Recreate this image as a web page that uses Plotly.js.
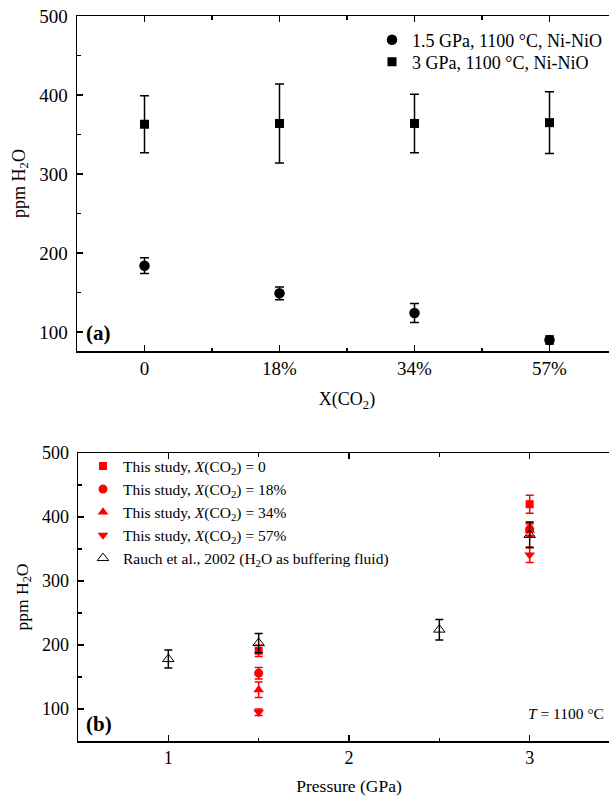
<!DOCTYPE html>
<html>
<head>
<meta charset="utf-8">
<script src="https://cdn.plot.ly/plotly-3.0.1.min.js"></script>
<style>
html,body{margin:0;padding:0;overflow:hidden;background:#fff;}
#chart{width:625px;height:796px;}
</style>
</head>
<body>
<div id="chart"></div>
<script>
// ---- Panel (a) data ----
const xco2Labels = ['0', '18%', '34%', '57%'];
const lowP_ppm   = [184, 149, 124, 90];   // 1.5 GPa
const lowP_err   = [10, 8, 12, 5];
const highP_ppm  = [363, 364, 364, 365];  // 3 GPa
const highP_err  = [36, 50, 37, 39];

// ---- Panel (b) data ----
const pStudy = [1.5, 3];
const study0_ppm  = [191, 420]; const study0_err  = [9, 14];
const study18_ppm = [156, 381]; const study18_err = [9, 10];
const study34_ppm = [130, 379]; const study34_err = [12, 10];
const study57_ppm = [95, 341];  const study57_err = [5, 12];
const rauchP   = [1, 1.5, 2.5, 3];
const rauchPpm = [178, 203, 224, 372];
const rauchErr = [14, 15, 16, 20];

const W = 625, H = 796;
const serif = 'Liberation Serif, Times New Roman, serif';
const xIdx = xco2Labels.map((_, i) => i);

function eb(arr, color, w) {
  return {type: 'data', array: arr, color: color, thickness: 1.5, width: w, visible: true};
}

const traces = [
  {x: xIdx, y: lowP_ppm, type: 'scatter', mode: 'markers', name: '1.5 GPa, 1100 °C, Ni-NiO',
   marker: {symbol: 'circle', size: 10.5, color: '#000'}, error_y: eb(lowP_err, '#000', 4.5),
   xaxis: 'x', yaxis: 'y', legend: 'legend'},
  {x: xIdx, y: highP_ppm, type: 'scatter', mode: 'markers', name: '3 GPa, 1100 °C, Ni-NiO',
   marker: {symbol: 'square', size: 9, color: '#000'}, error_y: eb(highP_err, '#000', 4.5),
   xaxis: 'x', yaxis: 'y', legend: 'legend2'},

  {x: pStudy, y: study0_ppm, type: 'scatter', mode: 'markers', name: 'This study, <i>X</i>(CO<sub>2</sub>) = 0',
   marker: {symbol: 'square', size: 8, color: '#ff0000'}, error_y: eb(study0_err, '#ff0000', 4),
   xaxis: 'x2', yaxis: 'y2', legend: 'legend3'},
  {x: pStudy, y: study18_ppm, type: 'scatter', mode: 'markers', name: 'This study, <i>X</i>(CO<sub>2</sub>) = 18%',
   marker: {symbol: 'circle', size: 9, color: '#ff0000'}, error_y: eb(study18_err, '#ff0000', 4),
   xaxis: 'x2', yaxis: 'y2', legend: 'legend4'},
  {x: pStudy, y: study34_ppm, type: 'scatter', mode: 'markers', name: 'This study, <i>X</i>(CO<sub>2</sub>) = 34%',
   marker: {symbol: 'triangle-up', size: 9.5, color: '#ff0000'}, error_y: eb(study34_err, '#ff0000', 4),
   xaxis: 'x2', yaxis: 'y2', legend: 'legend5'},
  {x: pStudy, y: study57_ppm, type: 'scatter', mode: 'markers', name: 'This study, <i>X</i>(CO<sub>2</sub>) = 57%',
   marker: {symbol: 'triangle-down', size: 9.5, color: '#ff0000'}, error_y: eb(study57_err, '#ff0000', 4),
   xaxis: 'x2', yaxis: 'y2', legend: 'legend6'},
  {x: rauchP, y: rauchPpm, type: 'scatter', mode: 'markers', name: 'Rauch et al., 2002 (H<sub>2</sub>O as buffering fluid)',
   marker: {symbol: 'triangle-up-open', size: 10, color: '#000', line: {width: 1}}, error_y: eb(rauchErr, '#000', 4),
   xaxis: 'x2', yaxis: 'y2', legend: 'legend7'}
];

const axBase = {
  showline: true, linecolor: '#000', linewidth: 1.5, mirror: 'ticks',
  ticks: 'inside', ticklen: 6, tickwidth: 1.3, tickcolor: '#000',
  showgrid: false, zeroline: false,
  tickfont: {family: serif, size: 19, color: '#000'},
  minor: {ticks: 'inside', ticklen: 3.5, tickwidth: 1.3, tickcolor: '#000', showgrid: false}
};

function leg(xPx, yPx, size) {
  return {x: xPx / W, xanchor: 'left', y: 1 - yPx / H, yanchor: 'middle',
          bgcolor: 'rgba(0,0,0,0)', borderwidth: 0,
          font: {family: serif, size: size, color: '#000'}};
}

const layout = {
  width: W, height: H,
  margin: {l: 0, r: 0, t: 0, b: 0},
  paper_bgcolor: '#fff', plot_bgcolor: '#fff',
  font: {family: serif, color: '#000'},
  showlegend: true,
  xaxis: Object.assign({}, axBase, {
    domain: [77 / W, 617 / W], anchor: 'y', range: [-0.5, 3.5],
    tickmode: 'array', tickvals: xIdx, ticktext: xco2Labels,
    minor: Object.assign({}, axBase.minor, {tickmode: 'linear', tick0: 0.5, dtick: 1}),
    title: {text: 'X(CO<sub>2</sub>)', font: {family: serif, size: 18, color: '#000'}, standoff: 14}
  }),
  yaxis: Object.assign({}, axBase, {
    domain: [1 - 351 / H, 1 - 16 / H], anchor: 'x', range: [76, 500],
    dtick: 100, tick0: 0, mirror: false,
    minor: Object.assign({}, axBase.minor, {dtick: 50}),
    ticklabelstandoff: 4,
    title: {text: 'ppm H<sub>2</sub>O', font: {family: serif, size: 18, color: '#000'}, standoff: 9}
  }),
  xaxis2: Object.assign({}, axBase, {
    domain: [78 / W, 620 / W], anchor: 'y2', range: [0.5, 3.5],
    dtick: 1, tick0: 0,
    tickfont: {family: serif, size: 18, color: '#000'},
    minor: Object.assign({}, axBase.minor, {dtick: 0.5}),
    title: {text: 'Pressure (GPa)', font: {family: serif, size: 17.5, color: '#000'}, standoff: 16}
  }),
  yaxis2: Object.assign({}, axBase, {
    domain: [1 - 741 / H, 1 - 453 / H], anchor: 'x2', range: [50, 500],
    dtick: 100, tick0: 0, mirror: false,
    tickfont: {family: serif, size: 18, color: '#000'},
    minor: Object.assign({}, axBase.minor, {dtick: 50}),
    ticklabelstandoff: 4,
    title: {text: 'ppm H<sub>2</sub>O', font: {family: serif, size: 17.5, color: '#000'}, standoff: 9}
  }),
  legend:  leg(372, 40, 18),
  legend2: leg(372, 62, 18),
  legend3: leg(83, 466.5, 15.5),
  legend4: leg(83, 489.5, 15.5),
  legend5: leg(83, 512.5, 15.5),
  legend6: leg(83, 535.5, 15.5),
  legend7: leg(83, 558.5, 15.5),
  annotations: [
    {text: '<b>(a)</b>', xref: 'paper', yref: 'paper', x: 84 / W, y: 1 - 333 / H,
     xanchor: 'left', yanchor: 'middle', showarrow: false, font: {family: serif, size: 21, color: '#000'}},
    {text: '<b>(b)</b>', xref: 'paper', yref: 'paper', x: 84 / W, y: 1 - 724 / H,
     xanchor: 'left', yanchor: 'middle', showarrow: false, font: {family: serif, size: 21, color: '#000'}},
    {text: '<i>T</i> = 1100 °C', xref: 'paper', yref: 'paper', x: 526 / W, y: 1 - 713 / H,
     xanchor: 'left', yanchor: 'middle', showarrow: false, font: {family: serif, size: 15.5, color: '#000'}}
  ]
};

Plotly.newPlot('chart', traces, layout, {displayModeBar: false, staticPlot: true});
</script>
</body>
</html>
